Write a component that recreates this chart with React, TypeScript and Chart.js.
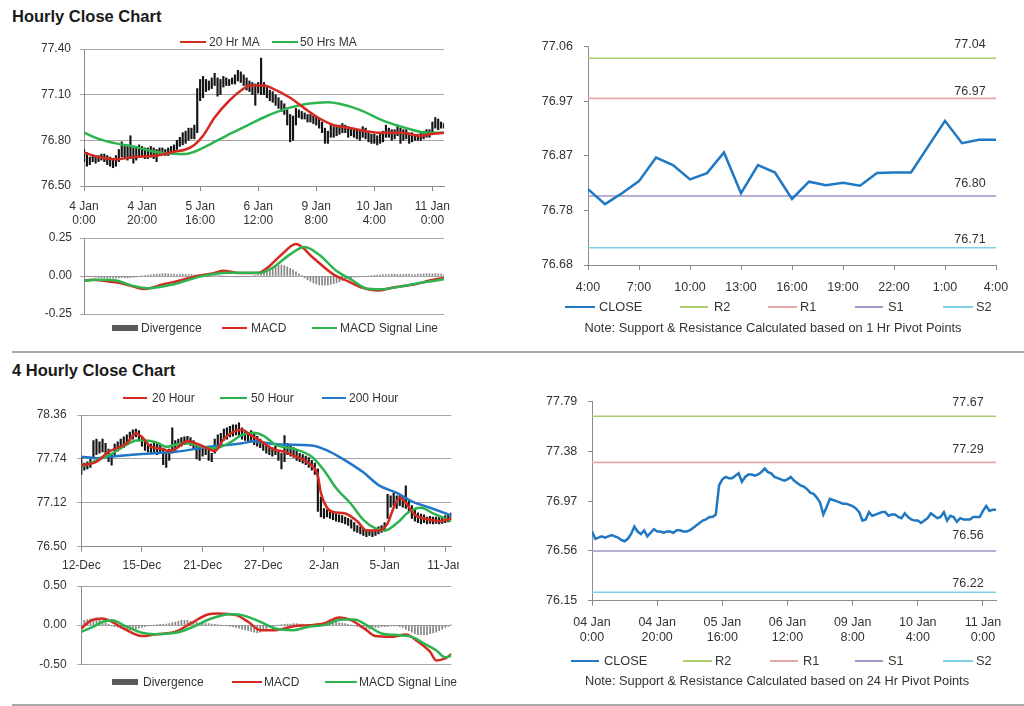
import React, { useEffect, useRef } from "react";
import { Chart, registerables } from "chart.js";
Chart.register(...registerables);

const FONT = '"Liberation Sans", Arial, sans-serif';
const TEXT = "#333333";
const GRID = "#a6a6a6";
const AXIS = "#8c8c8c";
const RED = "#d42a20";
const GREEN = "#2db350";
const BLUE = "#2176c8";
const CLOSE_BLUE = "#1f78c1";
const DIV_GRAY = "#858585";
const PIVOT_COLORS = ["#a9cd6f", "#e8a7a7", "#a493c6", "#7fd2e6"];

// ---------------- DATA ----------------
// Hourly chart (top-left + bottom-right)
const hourlyTickIdx = [0, 20, 40, 60, 80, 100, 120];
const hourlyTickLabels = [["4 Jan", "0:00"], ["4 Jan", "20:00"], ["5 Jan", "16:00"], ["6 Jan", "12:00"], ["9 Jan", "8:00"], ["10 Jan", "4:00"], ["11 Jan", "0:00"]];
const hourlyTickLabels24 = [["04 Jan", "0:00"], ["04 Jan", "20:00"], ["05 Jan", "16:00"], ["06 Jan", "12:00"], ["09 Jan", "8:00"], ["10 Jan", "4:00"], ["11 Jan", "0:00"]];
const hourlyPriceTicks = [76.5, 76.8, 77.1, 77.4];
const hourlyPriceLabels = ["76.50", "76.80", "77.10", "77.40"];
const hourlyMaNames = ["20 Hr MA", "50 Hrs MA"];

const hourlyLow = [
  76.66, 76.63, 76.64, 76.66, 76.65, 76.66, 76.67, 76.66, 76.64, 76.63,
  76.62, 76.63, 76.66, 76.69, 76.68, 76.67, 76.68, 76.65, 76.67, 76.69,
  76.69, 76.68, 76.68, 76.69, 76.68, 76.66, 76.70, 76.71, 76.70, 76.70,
  76.71, 76.72, 76.74, 76.76, 76.77, 76.78, 76.80, 76.81, 76.81, 76.85,
  77.06, 77.08, 77.12, 77.13, 77.14, 77.16, 77.09, 77.10, 77.15, 77.16,
  77.16, 77.17, 77.17, 77.19, 77.18, 77.16, 77.13, 77.12, 77.10, 77.03,
  77.11, 77.10, 77.10, 77.08, 77.06, 77.05, 77.03, 77.01, 76.99, 76.97,
  76.90, 76.79, 76.80, 76.90, 76.95, 76.94, 76.94, 76.92, 76.92, 76.91,
  76.90, 76.88, 76.85, 76.78, 76.78, 76.82, 76.82, 76.83, 76.84, 76.85,
  76.85, 76.82, 76.83, 76.82, 76.81, 76.80, 76.82, 76.81, 76.79, 76.78,
  76.78, 76.77, 76.78, 76.79, 76.82, 76.82, 76.80, 76.81, 76.83, 76.78,
  76.80, 76.81, 76.78, 76.79, 76.80, 76.80, 76.80, 76.81, 76.82, 76.82,
  76.84, 76.88, 76.87, 76.88, 76.88,
];
const hourlyHigh = [
  76.74, 76.72, 76.69, 76.70, 76.70, 76.70, 76.71, 76.71, 76.70, 76.69,
  76.68, 76.70, 76.74, 76.79, 76.77, 76.76, 76.83, 76.75, 76.76, 76.77,
  76.76, 76.75, 76.75, 76.76, 76.75, 76.74, 76.75, 76.75, 76.74, 76.75,
  76.76, 76.77, 76.80, 76.82, 76.85, 76.86, 76.88, 76.88, 76.90, 77.14,
  77.20, 77.22, 77.20, 77.19, 77.21, 77.24, 77.21, 77.20, 77.22, 77.21,
  77.20, 77.21, 77.23, 77.26, 77.25, 77.23, 77.21, 77.19, 77.18, 77.17,
  77.18, 77.34, 77.18, 77.16, 77.13, 77.12, 77.10, 77.08, 77.06, 77.04,
  77.00, 76.97, 76.96, 77.01, 77.00, 76.99, 76.98, 76.97, 76.97, 76.96,
  76.95, 76.94, 76.92, 76.88, 76.86, 76.90, 76.89, 76.90, 76.90, 76.91,
  76.90, 76.89, 76.88, 76.88, 76.87, 76.86, 76.89, 76.88, 76.86, 76.84,
  76.84, 76.83, 76.84, 76.86, 76.90, 76.88, 76.87, 76.87, 76.90, 76.88,
  76.87, 76.87, 76.85, 76.85, 76.84, 76.84, 76.85, 76.86, 76.87, 76.87,
  76.92, 76.95, 76.94, 76.92, 76.91,
];
const hourlyClose = [
  76.72, 76.66, 76.67, 76.68, 76.67, 76.68, 76.69, 76.68, 76.67, 76.65,
  76.64, 76.66, 76.70, 76.76, 76.72, 76.70, 76.73, 76.68, 76.71, 76.74,
  76.72, 76.72, 76.71, 76.72, 76.72, 76.71, 76.73, 76.73, 76.72, 76.72,
  76.73, 76.75, 76.77, 76.79, 76.81, 76.82, 76.84, 76.84, 76.86, 77.10,
  77.15, 77.17, 77.16, 77.16, 77.18, 77.20, 77.13, 77.17, 77.19, 77.19,
  77.18, 77.19, 77.21, 77.24, 77.21, 77.20, 77.17, 77.16, 77.15, 77.14,
  77.15, 77.17, 77.14, 77.12, 77.10, 77.09, 77.07, 77.04, 77.03, 77.00,
  76.96, 76.86, 76.92, 76.99, 76.98, 76.97, 76.96, 76.95, 76.95, 76.94,
  76.93, 76.91, 76.88, 76.81, 76.82, 76.88, 76.85, 76.86, 76.87, 76.88,
  76.88, 76.85, 76.86, 76.86, 76.84, 76.83, 76.87, 76.84, 76.82, 76.81,
  76.81, 76.79, 76.81, 76.83, 76.87, 76.85, 76.83, 76.84, 76.88, 76.81,
  76.85, 76.84, 76.80, 76.83, 76.82, 76.82, 76.82, 76.84, 76.84, 76.84,
  76.89, 76.93, 76.89, 76.90, 76.90,
];
const ma20HourlyIdx = [0, 5, 11, 17, 25, 31, 35, 38, 41, 45, 50, 55, 57, 62, 65, 71, 76, 81, 86, 92, 97, 101, 109, 116, 119, 124];
const ma20HourlyVal = [76.72, 76.69, 76.675, 76.69, 76.70, 76.725, 76.74, 76.77, 76.83, 76.95, 77.06, 77.14, 77.16, 77.16, 77.14, 77.08, 77.01, 76.945, 76.90, 76.88, 76.86, 76.85, 76.85, 76.83, 76.84, 76.85];
const ma50HourlyIdx = [0, 5, 11, 17, 23, 28, 35, 38, 42, 49, 56, 63, 70, 77, 84, 88, 95, 103, 111, 118, 124];
const ma50HourlyVal = [76.85, 76.81, 76.78, 76.76, 76.73, 76.715, 76.71, 76.725, 76.76, 76.83, 76.895, 76.96, 77.01, 77.04, 77.05, 77.04, 77.00, 76.93, 76.88, 76.85, 76.85];

// Hourly MACD
const macdNames = ["Divergence", "MACD", "MACD Signal Line"];
const hourlyMacdTicks = [-0.25, 0, 0.25];
const hourlyMacdLabels = ["-0.25", "0.00", "0.25"];
const macdHourlyIdx = [0, 3, 8, 12, 17, 21, 27, 33, 39, 45, 48, 53, 60, 63, 68, 73, 79, 86, 91, 96, 101, 107, 114, 119, 124];
const macdHourlyVal = [-0.03, -0.025, -0.035, -0.045, -0.07, -0.085, -0.056, -0.03, 0, 0.02, 0.035, 0.02, 0.02, 0.052, 0.14, 0.21, 0.118, 0.009, -0.035, -0.078, -0.096, -0.074, -0.055, -0.03, -0.013];
const signalHourlyIdx = [0, 6, 11, 16, 22, 31, 40, 49, 61, 65, 71, 76, 81, 87, 92, 97, 102, 109, 116, 124];
const signalHourlyVal = [-0.03, -0.025, -0.03, -0.06, -0.08, -0.054, -0.004, 0.022, 0.022, 0.055, 0.142, 0.19, 0.14, 0.033, -0.022, -0.08, -0.087, -0.07, -0.044, -0.022];
const divergenceHourly = [
  0, 0, -0.005, -0.005, -0.008, -0.01, -0.012, -0.012, -0.015, -0.015,
  -0.015, -0.015, -0.012, -0.01, -0.012, -0.012, -0.01, -0.008, -0.006, -0.004,
  0.003, 0.005, 0.006, 0.008, 0.01, 0.012, 0.012, 0.015, 0.015, 0.014,
  0.012, 0.012, 0.01, 0.01, 0.012, 0.012, 0.01, 0.01, 0.008, 0.008,
  0.008, 0.006, 0.006, 0.005, 0.005, 0.004, 0.003, 0.002, 0, 0,
  -0.004, -0.005, -0.006, -0.006, -0.005, -0.004, -0.003, -0.002, 0, 0.003,
  0.008, 0.015, 0.025, 0.035, 0.045, 0.055, 0.063, 0.07, 0.072, 0.068,
  0.06, 0.05, 0.04, 0.028, 0.015, 0.002, -0.012, -0.025, -0.035, -0.045,
  -0.052, -0.058, -0.06, -0.06, -0.058, -0.055, -0.05, -0.045, -0.038, -0.03,
  -0.022, -0.016, -0.012, -0.008, -0.006, -0.005, -0.004, -0.002, 0, 0.003,
  0.005, 0.006, 0.008, 0.01, 0.01, 0.01, 0.012, 0.012, 0.01, 0.01,
  0.01, 0.012, 0.012, 0.01, 0.01, 0.012, 0.012, 0.014, 0.015, 0.014,
  0.014, 0.015, 0.014, 0.012, 0.01,
];

// 1 Hr pivot chart (top-right)
const pivotLegendNames = ["CLOSE", "R2", "R1", "S1", "S2"];
const pivotHourLabels = ["4:00", "5:00", "6:00", "7:00", "8:00", "9:00", "10:00", "11:00", "12:00", "13:00", "14:00", "15:00", "16:00", "17:00", "18:00", "19:00", "20:00", "21:00", "22:00", "23:00", "0:00", "1:00", "2:00", "3:00", "4:00"];
const pivotHourTickIdx = [0, 3, 6, 9, 12, 15, 18, 21, 24];
const pivotHourClose = [76.812, 76.786, 76.805, 76.826, 76.867, 76.854, 76.829, 76.840, 76.876, 76.805, 76.854, 76.841, 76.795, 76.825, 76.819, 76.823, 76.818, 76.840, 76.841, 76.841, 76.886, 76.931, 76.892, 76.898, 76.898];
const pivot1hValues = [77.04, 76.97, 76.80, 76.71];
const pivot1hTicks = [76.68, 76.775, 76.87, 76.965, 77.06];
const pivot1hTickLabels = ["76.68", "76.78", "76.87", "76.97", "77.06"];
const note1h = "Note: Support & Resistance Calculated based on 1 Hr Pivot Points";

// 24 Hr pivot chart (bottom-right)
const pivot24hValues = [77.67, 77.29, 76.56, 76.22];
const pivot24hTicks = [76.15, 76.56, 76.97, 77.38, 77.79];
const pivot24hTickLabels = ["76.15", "76.56", "76.97", "77.38", "77.79"];
const note24h = "Note: Support & Resistance Calculated based on 24 Hr Pivot Points";

// 4 hourly chart (bottom-left)
const fourHourMaNames = ["20 Hour", "50 Hour", "200 Hour"];
const fourTickIdx = [0, 20, 40, 60, 80, 100, 120];
const fourTickLabels = ["12-Dec", "15-Dec", "21-Dec", "27-Dec", "2-Jan", "5-Jan", "11-Jan"];
const fourPriceTicks = [76.5, 77.12, 77.74, 78.36];
const fourPriceLabels = ["76.50", "77.12", "77.74", "78.36"];
const fourLow = [
  77.52, 77.58, 77.60, 77.62, 77.75, 77.80, 77.82, 77.84, 77.80, 77.70,
  77.65, 77.78, 77.85, 77.88, 77.90, 77.95, 78.00, 78.02, 78.05, 78.00,
  77.92, 77.86, 77.84, 77.82, 77.84, 77.80, 77.82, 77.66, 77.62, 77.72,
  77.82, 77.86, 77.90, 77.92, 77.94, 77.95, 77.93, 77.88, 77.74, 77.72,
  77.78, 77.80, 77.72, 77.70, 77.82, 77.90, 77.95, 78.00, 78.02, 78.05,
  78.06, 78.08, 78.06, 78.02, 78.00, 77.98, 77.98, 77.94, 77.92, 77.90,
  77.86, 77.82, 77.80, 77.78, 77.80, 77.72, 77.60, 77.70, 77.80, 77.78,
  77.76, 77.72, 77.70, 77.68, 77.66, 77.62, 77.58, 77.52, 77.00, 76.92,
  76.90, 76.92, 76.90, 76.88, 76.86, 76.85, 76.84, 76.82, 76.80, 76.76,
  76.72, 76.70, 76.68, 76.66, 76.64, 76.66, 76.64, 76.66, 76.68, 76.70,
  76.72, 76.90, 77.06, 77.08, 77.04, 77.08, 77.06, 77.04, 76.98, 76.90,
  76.86, 76.84, 76.82, 76.84, 76.82, 76.83, 76.82, 76.83, 76.82, 76.83,
  76.84, 76.85, 76.88,
];
const fourHigh = [
  77.76, 77.68, 77.70, 77.74, 78.00, 78.02, 77.98, 78.02, 77.96, 77.88,
  77.80, 77.95, 77.98, 78.02, 78.05, 78.08, 78.12, 78.15, 78.16, 78.14,
  78.06, 78.00, 77.96, 77.95, 77.98, 77.95, 77.94, 77.88, 77.82, 77.88,
  78.18, 78.00, 78.02, 78.04, 78.05, 78.06, 78.04, 78.00, 77.94, 77.88,
  77.92, 77.90, 77.86, 77.82, 78.02, 78.08, 78.10, 78.16, 78.18, 78.20,
  78.22, 78.22, 78.25, 78.18, 78.12, 78.10, 78.14, 78.10, 78.06, 78.02,
  77.98, 77.96, 77.92, 77.90, 77.92, 77.86, 77.82, 78.07, 77.96, 77.94,
  77.90, 77.86, 77.82, 77.80, 77.78, 77.76, 77.72, 77.68, 77.60, 77.20,
  77.04, 77.02, 77.00, 76.98, 76.96, 76.95, 76.94, 76.92, 76.90, 76.88,
  76.84, 76.80, 76.78, 76.76, 76.74, 76.74, 76.72, 76.74, 76.78, 76.80,
  76.84, 77.24, 77.22, 77.26, 77.22, 77.24, 77.20, 77.36, 77.14, 77.08,
  77.04, 76.98, 76.96, 76.95, 76.92, 76.93, 76.92, 76.92, 76.91, 76.92,
  76.94, 76.95, 76.98,
];
const ma20FourIdx = [0, 5, 9, 15, 18, 20, 23, 27, 29, 31, 35, 39, 42, 44, 47, 50, 53, 56, 60, 63, 67, 71, 75, 78, 79, 81, 83, 87, 91, 94, 98, 101, 103, 105, 107, 110, 115, 118, 122];
const ma20FourVal = [77.65, 77.70, 77.84, 77.96, 78.10, 78.05, 77.91, 77.88, 77.85, 77.88, 77.99, 77.94, 77.88, 77.85, 78.02, 78.12, 78.15, 78.07, 77.97, 77.88, 77.84, 77.77, 77.68, 77.50, 77.26, 77.05, 76.99, 76.97, 76.86, 76.73, 76.73, 76.83, 77.05, 77.19, 77.12, 76.95, 76.88, 76.86, 76.90];
const ma50FourIdx = [0, 5, 9, 15, 18, 21, 25, 28, 31, 35, 40, 44, 49, 53, 57, 60, 64, 71, 76, 80, 84, 89, 93, 97, 100, 104, 108, 112, 116, 122];
const ma50FourVal = [77.63, 77.72, 77.79, 77.94, 78.00, 78.00, 77.97, 77.91, 77.94, 77.96, 77.91, 77.89, 77.97, 78.08, 78.11, 78.07, 77.94, 77.87, 77.77, 77.58, 77.33, 77.10, 76.88, 76.76, 76.73, 76.83, 76.99, 77.05, 76.97, 76.86];
const ma200FourIdx = [0, 5, 9, 20, 31, 42, 53, 57, 60, 67, 76, 82, 87, 93, 98, 104, 109, 115, 122];
const ma200FourVal = [77.77, 77.75, 77.77, 77.81, 77.84, 77.91, 77.96, 77.99, 77.97, 77.94, 77.93, 77.84, 77.72, 77.55, 77.37, 77.26, 77.14, 77.05, 76.94];

// 4 hourly MACD
const fourMacdTicks = [-0.5, 0, 0.5];
const fourMacdLabels = ["-0.50", "0.00", "0.50"];
const macdFourIdx = [0, 3, 7, 9, 14, 20, 24, 31, 36, 42, 45, 51, 55, 59, 64, 70, 75, 80, 85, 89, 94, 97, 102, 107, 111, 115, 117, 120, 122];
const macdFourVal = [-0.043, 0.055, 0.085, 0.064, -0.043, -0.14, -0.12, -0.085, 0.02, 0.14, 0.149, 0.128, 0.043, -0.064, -0.064, -0.013, 0, 0.02, 0.098, 0.064, -0.064, -0.14, -0.149, -0.12, -0.21, -0.34, -0.45, -0.425, -0.37];
const signalFourIdx = [0, 4, 7, 10, 15, 20, 24, 31, 37, 42, 49, 53, 59, 64, 70, 75, 80, 86, 90, 95, 99, 105, 109, 113, 117, 120, 122];
const signalFourVal = [-0.085, -0.02, 0.043, 0.064, -0.02, -0.098, -0.115, -0.098, -0.02, 0.072, 0.14, 0.128, 0.043, -0.043, -0.064, -0.02, 0, 0.072, 0.072, -0.02, -0.106, -0.128, -0.149, -0.234, -0.32, -0.41, -0.39];
const divergenceFour = [
  0.04, 0.06, 0.07, 0.08, 0.08, 0.07, 0.06, 0.04, 0.03,
  0.01, -0.01, -0.02, -0.03,
  -0.04, -0.05, -0.06, -0.06, -0.05, -0.05, -0.04, -0.03, -0.02, -0.01, -0.005, 0,
  0.005, 0.01, 0.01, 0.015, 0.02, 0.03, 0.04, 0.05, 0.06, 0.06, 0.06, 0.05, 0.05, 0.04, 0.03, 0.03, 0.02,
  0.02, 0.015, 0.01, 0.005, 0, -0.005, -0.01,
  -0.015, -0.02, -0.03, -0.04, -0.05, -0.06, -0.07, -0.08, -0.09, -0.1, -0.09, -0.07, -0.05, -0.03,
  -0.02, -0.01, 0, 0.005, 0.01, 0.015, 0.015, 0.02, 0.02, 0.015, 0.015, 0.01, 0.01, 0.01, 0.01, 0.015, 0.02, 0.025,
  0.03, 0.035, 0.04, 0.035, 0.03, 0.025, 0.02, 0.01, 0, -0.01,
  -0.02, -0.03, -0.04, -0.05, -0.05, -0.04, -0.03, -0.03, -0.02, -0.02, -0.015, -0.01, -0.01, -0.01, -0.02, -0.03, -0.05,
  -0.07, -0.09, -0.11, -0.12, -0.12, -0.12, -0.12, -0.11, -0.1, -0.09, -0.07, -0.05, -0.03, -0.015, 0.01,
];

// ---------------- HELPERS ----------------
const pts = (xs: number[], ys: number[]) => xs.map((x, i) => ({ x, y: ys[i] }));
const seq = (ys: number[]) => ys.map((y, i) => ({ x: i, y }));
const ranges = (lo: number[], hi: number[]) => lo.map((l, i) => ({ x: i, y: [l, hi[i]] }));

function yScale(tickVals: number[], tickLabels: string[], width: number, pad: number, gridOn: boolean, size = 12) {
  return {
    type: "linear",
    position: "left",
    min: tickVals[0],
    max: tickVals[tickVals.length - 1],
    afterBuildTicks: (s: any) => {
      s.ticks = tickVals.map((v) => ({ value: v }));
    },
    afterFit: (s: any) => {
      s.width = width;
      s.paddingTop = 0;
      s.paddingBottom = 0;
    },
    ticks: {
      callback: (_v: any, i: number) => tickLabels[i],
      color: TEXT,
      font: { family: FONT, size },
      padding: pad,
      autoSkip: false,
    },
    grid: { drawOnChartArea: gridOn, color: GRID, tickColor: gridOn ? GRID : AXIS, tickLength: 4, lineWidth: 1 },
    border: { display: true, color: AXIS, width: 1 },
  };
}

function xScale(max: number, tickIdx: number[], tickLabels: any[], height: number, pad: number, size = 12) {
  return {
    type: "linear",
    position: "bottom",
    min: 0,
    max,
    offset: false,
    afterBuildTicks: (s: any) => {
      s.ticks = tickIdx.map((v) => ({ value: v }));
    },
    afterFit: (s: any) => {
      s.height = height;
      s.paddingLeft = 0;
      s.paddingRight = 0;
    },
    ticks: {
      callback: (_v: any, i: number) => tickLabels[i],
      color: TEXT,
      font: { family: FONT, size, lineHeight: 1.2 },
      padding: pad,
      autoSkip: false,
      maxRotation: 0,
      minRotation: 0,
    },
    grid: { drawOnChartArea: false, offset: false, tickLength: 5, tickColor: AXIS },
    border: { display: true, color: AXIS, width: 1 },
  };
}

function hiddenX(max: number) {
  return { type: "linear", min: 0, max, offset: false, display: false, grid: { offset: false } };
}

function baseOptions(pad: { top: number; right: number; bottom: number }, scales: any) {
  return {
    animation: false,
    responsive: false,
    maintainAspectRatio: false,
    devicePixelRatio: 1,
    events: [],
    layout: { padding: { top: pad.top, right: pad.right, bottom: pad.bottom, left: 0 } },
    plugins: { legend: { display: false }, tooltip: { enabled: false } },
    scales,
  };
}

const maLine = (label: string, data: any[], color: string) => ({
  type: "line",
  label,
  data,
  borderColor: color,
  backgroundColor: color,
  borderWidth: 2.5,
  pointRadius: 0,
  cubicInterpolationMode: "monotone",
});

function pivotLabelPlugin(values: number[], offsets: number[], fromRight: number) {
  return {
    id: "pivotLabels",
    afterDatasetsDraw(chart: any) {
      const { ctx, chartArea, scales } = chart;
      ctx.save();
      ctx.font = `12.5px ${FONT}`;
      ctx.fillStyle = TEXT;
      ctx.textAlign = "center";
      ctx.textBaseline = "middle";
      values.forEach((v, i) => {
        const y = scales.y.getPixelForValue(v);
        ctx.fillText(v.toFixed(2), chartArea.right - fromRight, y - offsets[i]);
      });
      ctx.restore();
    },
  };
}

// ---------------- CHART CONFIGS ----------------
const hourlyPriceConfig = () => ({
  type: "bar",
  data: {
    datasets: [
      maLine(hourlyMaNames[0], pts(ma20HourlyIdx, ma20HourlyVal), RED),
      maLine(hourlyMaNames[1], pts(ma50HourlyIdx, ma50HourlyVal), GREEN),
      { type: "bar", label: "Price", data: ranges(hourlyLow, hourlyHigh), backgroundColor: "#151515", barThickness: 1.5 },
    ],
  },
  options: baseOptions({ top: 19, right: 16, bottom: 0 }, {
    x: xScale(hourlyLow.length - 1, hourlyTickIdx, hourlyTickLabels, 44, 8),
    y: yScale(hourlyPriceTicks, hourlyPriceLabels, 84, 9, true),
  }),
});

const hourlyMacdConfig = () => ({
  type: "bar",
  data: {
    datasets: [
      maLine(macdNames[2], pts(signalHourlyIdx, signalHourlyVal), GREEN),
      maLine(macdNames[1], pts(macdHourlyIdx, macdHourlyVal), RED),
      { type: "bar", label: macdNames[0], data: seq(divergenceHourly), backgroundColor: DIV_GRAY, barThickness: 1 },
    ],
  },
  options: baseOptions({ top: 8, right: 16, bottom: 8 }, {
    x: hiddenX(divergenceHourly.length - 1),
    y: yScale(hourlyMacdTicks, hourlyMacdLabels, 84, 8, true),
  }),
});

const pivotLines = (values: number[], max: number) =>
  values.map((v, i) => ({
    type: "line",
    label: pivotLegendNames[i + 1],
    data: [{ x: 0, y: v }, { x: max, y: v }],
    borderColor: PIVOT_COLORS[i],
    borderWidth: 1.6,
    pointRadius: 0,
  }));

const pivot1hConfig = () => ({
  type: "line",
  data: {
    datasets: [
      { label: pivotLegendNames[0], data: seq(pivotHourClose), borderColor: CLOSE_BLUE, borderWidth: 2.5, pointRadius: 0, tension: 0 },
      ...pivotLines(pivot1hValues, pivotHourClose.length - 1),
    ],
  },
  options: baseOptions({ top: 16.7, right: 28, bottom: 0 }, {
    x: xScale(pivotHourClose.length - 1, pivotHourTickIdx, pivotHourTickIdx.map((i) => pivotHourLabels[i]), 35, 10, 12.5),
    y: yScale(pivot1hTicks, pivot1hTickLabels, 68, 11, false, 12.5),
  }),
  plugins: [pivotLabelPlugin(pivot1hValues, [13.5, 7, 12.5, 8.5], 26)],
});

const pivot24hConfig = () => ({
  type: "line",
  data: {
    datasets: [
      { label: pivotLegendNames[0], data: seq(hourlyClose), borderColor: CLOSE_BLUE, borderWidth: 2.5, pointRadius: 0, tension: 0 },
      ...pivotLines(pivot24hValues, hourlyClose.length - 1),
    ],
  },
  options: baseOptions({ top: 16.7, right: 28, bottom: 0 }, {
    x: xScale(hourlyClose.length - 1, hourlyTickIdx, hourlyTickLabels24, 49.3, 9, 12.5),
    y: yScale(pivot24hTicks, pivot24hTickLabels, 72, 10.7, false, 12.5),
  }),
  plugins: [pivotLabelPlugin(pivot24hValues, [14, 13, 15, 9], 28)],
});

const fourPriceConfig = () => ({
  type: "bar",
  data: {
    datasets: [
      maLine(fourHourMaNames[0], pts(ma20FourIdx, ma20FourVal), RED),
      maLine(fourHourMaNames[1], pts(ma50FourIdx, ma50FourVal), GREEN),
      maLine(fourHourMaNames[2], pts(ma200FourIdx, ma200FourVal), BLUE),
      { type: "bar", label: "Price", data: ranges(fourLow, fourHigh), backgroundColor: "#151515", barThickness: 1.5 },
    ],
  },
  options: baseOptions({ top: 10, right: 7.7, bottom: 0 }, {
    x: xScale(fourLow.length - 1, fourTickIdx, fourTickLabels, 28.3, 7),
    y: yScale(fourPriceTicks, fourPriceLabels, 81.3, 10.6, true),
  }),
});

const fourMacdConfig = () => ({
  type: "bar",
  data: {
    datasets: [
      maLine(macdNames[2], pts(signalFourIdx, signalFourVal), GREEN),
      maLine(macdNames[1], pts(macdFourIdx, macdFourVal), RED),
      { type: "bar", label: macdNames[0], data: seq(divergenceFour), backgroundColor: DIV_GRAY, barThickness: 1 },
    ],
  },
  options: baseOptions({ top: 8, right: 8.7, bottom: 8.7 }, {
    x: hiddenX(divergenceFour.length - 1),
    y: yScale(fourMacdTicks, fourMacdLabels, 81.3, 10.6, true),
  }),
});

// ---------------- COMPONENTS ----------------
type Rect = { left: number; top: number; width: number; height: number };

function ChartBox({ rect, make }: { rect: Rect; make: () => any }) {
  const ref = useRef<HTMLCanvasElement>(null);
  useEffect(() => {
    const chart = new Chart(ref.current as HTMLCanvasElement, make());
    return () => chart.destroy();
  }, []);
  return (
    <canvas
      ref={ref}
      width={rect.width}
      height={rect.height}
      style={{ position: "absolute", left: rect.left, top: rect.top, width: rect.width, height: rect.height }}
    />
  );
}

type LegendItem = { label: string; color: string; kind: "line" | "box"; x1: number; x2: number; tx: number };

function Legend({ items, cy, size = 12 }: { items: LegendItem[]; cy: number; size?: number }) {
  return (
    <>
      {items.map((it, i) => (
        <React.Fragment key={i}>
          <div
            style={{
              position: "absolute",
              left: it.x1,
              top: cy - (it.kind === "box" ? 3 : 1),
              width: it.x2 - it.x1,
              height: it.kind === "box" ? 6 : 2,
              background: it.color,
            }}
          />
          <div
            style={{
              position: "absolute",
              left: it.tx,
              top: cy - 8,
              height: 16,
              lineHeight: "16px",
              fontSize: size,
              color: TEXT,
              whiteSpace: "nowrap",
            }}
          >
            {it.label}
          </div>
        </React.Fragment>
      ))}
    </>
  );
}

function Title({ text, cy }: { text: string; cy: number }) {
  return (
    <div style={{ position: "absolute", left: 12, top: cy - 10, height: 20, lineHeight: "20px", fontSize: 16.5, fontWeight: "bold", color: "#1a1a1a", whiteSpace: "nowrap" }}>
      {text}
    </div>
  );
}

function Note({ text, cx, cy }: { text: string; cx: number; cy: number }) {
  return (
    <div style={{ position: "absolute", left: cx - 250, width: 500, top: cy - 8, height: 16, lineHeight: "16px", fontSize: 12.8, color: TEXT, textAlign: "center", whiteSpace: "nowrap" }}>
      {text}
    </div>
  );
}

function Separator({ y }: { y: number }) {
  return <div style={{ position: "absolute", left: 12, width: 1012, top: y - 1, height: 2, background: "#a8a8a8" }} />;
}

export default function App() {
  const pivotColorsAll = [CLOSE_BLUE, ...PIVOT_COLORS];
  const legendC: LegendItem[] = pivotLegendNames.map((n, i) => ({
    label: n, color: pivotColorsAll[i], kind: "line",
    x1: [565, 680, 768, 855, 943][i], x2: [595, 708, 797, 883, 973][i], tx: [599, 714, 800, 888, 976][i],
  }));
  const legendD: LegendItem[] = pivotLegendNames.map((n, i) => ({
    label: n, color: pivotColorsAll[i], kind: "line",
    x1: [571, 683, 770, 855, 943][i], x2: [599, 712, 798, 883, 973][i], tx: [604, 715, 803, 888, 976][i],
  }));
  return (
    <div style={{ position: "fixed", left: 0, top: 0, width: 1024, height: 706, background: "#ffffff", fontFamily: FONT, overflow: "hidden" }}>
      <ChartBox rect={{ left: 0, top: 30, width: 460, height: 200 }} make={hourlyPriceConfig} />
      <ChartBox rect={{ left: 0, top: 230, width: 460, height: 92 }} make={hourlyMacdConfig} />
      <ChartBox rect={{ left: 520, top: 30, width: 504, height: 270 }} make={pivot1hConfig} />
      <ChartBox rect={{ left: 0, top: 405, width: 459, height: 170 }} make={fourPriceConfig} />
      <ChartBox rect={{ left: 0, top: 578, width: 460, height: 95 }} make={fourMacdConfig} />
      <ChartBox rect={{ left: 520, top: 385, width: 504, height: 265 }} make={pivot24hConfig} />

      <Title text="Hourly Close Chart" cy={16} />
      <Title text="4 Hourly Close Chart" cy={370} />

      <Legend cy={42} items={[
        { label: hourlyMaNames[0], color: RED, kind: "line", x1: 180, x2: 206, tx: 209 },
        { label: hourlyMaNames[1], color: GREEN, kind: "line", x1: 272, x2: 298, tx: 300 },
      ]} />
      <Legend cy={328} items={[
        { label: macdNames[0], color: "#5a5a5a", kind: "box", x1: 112, x2: 138, tx: 141 },
        { label: macdNames[1], color: RED, kind: "line", x1: 222, x2: 247, tx: 251 },
        { label: macdNames[2], color: GREEN, kind: "line", x1: 312, x2: 337, tx: 340 },
      ]} />
      <Legend cy={307} items={legendC} size={12.8} />
      <Note text={note1h} cx={773} cy={328} />

      <Legend cy={398} items={[
        { label: fourHourMaNames[0], color: RED, kind: "line", x1: 123, x2: 147, tx: 152 },
        { label: fourHourMaNames[1], color: GREEN, kind: "line", x1: 220, x2: 247, tx: 251 },
        { label: fourHourMaNames[2], color: BLUE, kind: "line", x1: 322, x2: 346, tx: 349 },
      ]} />
      <Legend cy={682} items={[
        { label: macdNames[0], color: "#5a5a5a", kind: "box", x1: 112, x2: 138, tx: 143 },
        { label: macdNames[1], color: RED, kind: "line", x1: 232, x2: 262, tx: 264 },
        { label: macdNames[2], color: GREEN, kind: "line", x1: 325, x2: 357, tx: 359 },
      ]} />
      <Legend cy={661} items={legendD} size={12.8} />
      <Note text={note24h} cx={777} cy={681} />

      <Separator y={352} />
      <Separator y={705} />
    </div>
  );
}
